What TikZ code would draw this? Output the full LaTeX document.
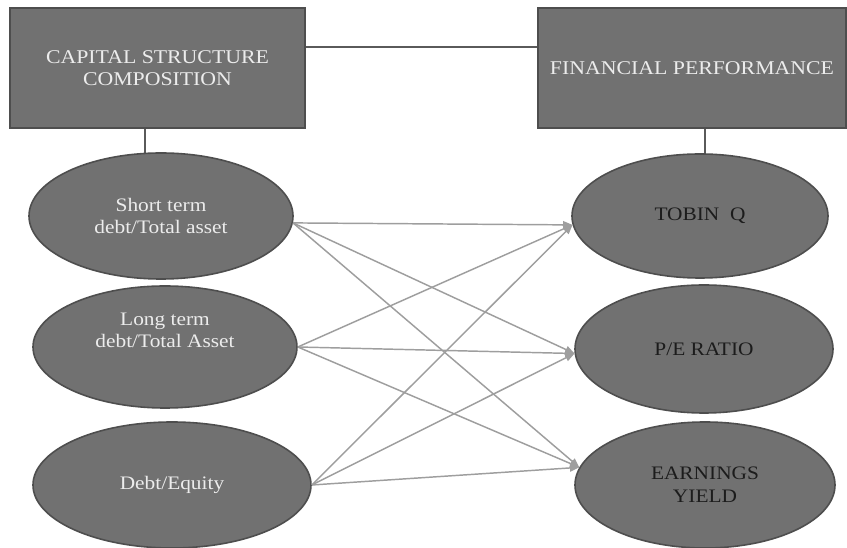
\documentclass[tikz,border=0pt]{standalone}
\usepackage{fontspec}
\setmainfont{Liberation Serif}[FakeStretch=1.12]
\usetikzlibrary{shapes.geometric,arrows.meta}
\definecolor{shapefill}{RGB}{113,113,113}
\definecolor{shapeedge}{RGB}{78,78,78}
\definecolor{lighttext}{RGB}{236,236,236}
\definecolor{darktext}{RGB}{28,28,28}
\definecolor{linkgray}{RGB}{158,158,158}
\definecolor{stemgray}{RGB}{90,90,90}
\tikzset{
  headbox/.style={draw=shapeedge, line width=1.4pt, fill=shapefill, text=lighttext,
    minimum height=120*0.75pt, inner sep=0pt, align=center,
    font=\fontsize{14.6pt}{16.8pt}\selectfont},
  varell/.style={ellipse, draw=shapeedge, line width=1.2pt, fill=shapefill,
    inner sep=0pt, align=center, font=\fontsize{14.3pt}{17pt}\selectfont},
  leftell/.style={varell, text=lighttext},
  rightell/.style={varell, text=darktext},
  link/.style={draw=linkgray, line width=1.1pt, -{Triangle[length=7pt,width=5.5pt]}},
  stem/.style={draw=stemgray, line width=1pt}
}
\begin{document}
\begin{tikzpicture}[x=0.75pt,y=-0.75pt]
\useasboundingbox (0,0) rectangle (847,548);

% stems first (behind shapes)
\node[headbox, minimum width=295*0.75pt] (b1) at (157.5,68) {CAPITAL STRUCTURE\\COMPOSITION};
\node[headbox, minimum width=308*0.75pt] (b2) at (692,68) {FINANCIAL PERFORMANCE};

\coordinate (s1top) at (145,160);
\coordinate (t1top) at (705,160);
\draw[stem] (b1.south -| s1top) -- (s1top);
\draw[stem] (b2.south -| t1top) -- (t1top);
\draw[stem] ([yshift=21*0.75pt]b1.east) -- ([yshift=21*0.75pt]b2.west);

\node[leftell, minimum width=264*0.75pt, minimum height=126*0.75pt] (s1) at (161,216) {Short term\\debt/Total asset};
\node[leftell, minimum width=264*0.75pt, minimum height=122*0.75pt] (s2) at (165,347) {Long term\\debt/Total Asset\\[8pt]};
\node[leftell, minimum width=278*0.75pt, minimum height=126*0.75pt] (s3) at (172,485) {Debt/Equity};

\node[rightell, minimum width=256*0.75pt, minimum height=124*0.75pt] (t1) at (700,216) {TOBIN\ \ Q};
\node[rightell, minimum width=258*0.75pt, minimum height=128*0.75pt] (t2) at (704,349) {P/E RATIO};
\node[rightell, minimum width=260*0.75pt, minimum height=126*0.75pt] (t3) at (705,485) {EARNINGS\\YIELD};

% links
\draw[link] (s1.-3) -- (t1.184);
\draw[link] (s1.-3) -- (t2.182);
\draw[link] (s1.-3) -- (t3.172);
\draw[link] (s2.east) -- (t1.184);
\draw[link] (s2.east) -- (t2.182);
\draw[link] (s2.east) -- (t3.172);
\draw[link] (s3.east) -- (t1.184);
\draw[link] (s3.east) -- (t2.182);
\draw[link] (s3.east) -- (t3.172);
\end{tikzpicture}
\end{document}
